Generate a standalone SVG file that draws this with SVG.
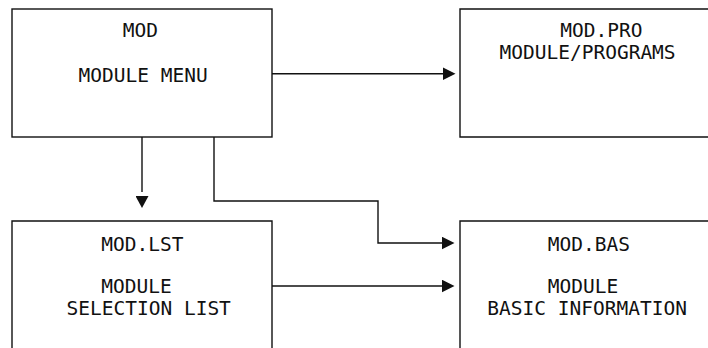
<svg xmlns="http://www.w3.org/2000/svg" width="708" height="348" viewBox="0 0 708 348">
  <style>
    .box { fill: #ffffff; stroke: #111111; stroke-width: 1.4; }
    .conn { fill: none; stroke: #111111; stroke-width: 1.4; }
    .lbl { font-family: "DejaVu Sans Mono", "Liberation Mono", monospace; font-size: 19.5px; fill: #111111; }
  </style>
  <defs>
    <marker id="arrow" viewBox="0 0 13 13" refX="0.5" refY="6.5" markerWidth="13" markerHeight="13" markerUnits="userSpaceOnUse" orient="auto">
      <path d="M0,0 L13,6.5 L0,13 Z" fill="#111111"/>
    </marker>
    <marker id="arrow-gap" viewBox="-4 0 17 13" refX="-4" refY="6.5" markerWidth="17" markerHeight="13" markerUnits="userSpaceOnUse" orient="auto">
      <path d="M0,0 L12,6.5 L0,13 Z" fill="#111111"/>
    </marker>
  </defs>
  <rect width="708" height="348" fill="#ffffff"/>

  <g id="connectors">
    <path class="conn" d="M272,73.7 H443" marker-end="url(#arrow)"/>
    <path class="conn" d="M142,137 V192" marker-end="url(#arrow-gap)"/>
    <path class="conn" d="M214,137 V201 H378 V243 H442" marker-end="url(#arrow)"/>
    <path class="conn" d="M272,286 H442" marker-end="url(#arrow)"/>
  </g>

  <g id="node-mod">
    <rect class="box" x="12" y="9" width="260" height="128"/>
    <text class="lbl" x="122.8" y="37">MOD</text>
    <text class="lbl" x="78.5" y="81.5">MODULE MENU</text>
  </g>

  <g id="node-mod-pro">
    <path class="box" d="M708,9 H460 V137 H708"/>
    <text class="lbl" x="560.2" y="37">MOD.PRO</text>
    <text class="lbl" x="499.5" y="58.7">MODULE/PROGRAMS</text>
  </g>

  <g id="node-mod-lst">
    <path class="box" d="M12,349 V221 H272 V349"/>
    <text class="lbl" x="101.2" y="251">MOD.LST</text>
    <text class="lbl" x="101.2" y="293">MODULE</text>
    <text class="lbl" x="66.5" y="315">SELECTION LIST</text>
  </g>

  <g id="node-mod-bas">
    <path class="box" d="M708,221 H460 V349"/>
    <text class="lbl" x="547.8" y="251">MOD.BAS</text>
    <text class="lbl" x="547.8" y="293">MODULE</text>
    <text class="lbl" x="487.3" y="315">BASIC INFORMATION</text>
  </g>
</svg>
